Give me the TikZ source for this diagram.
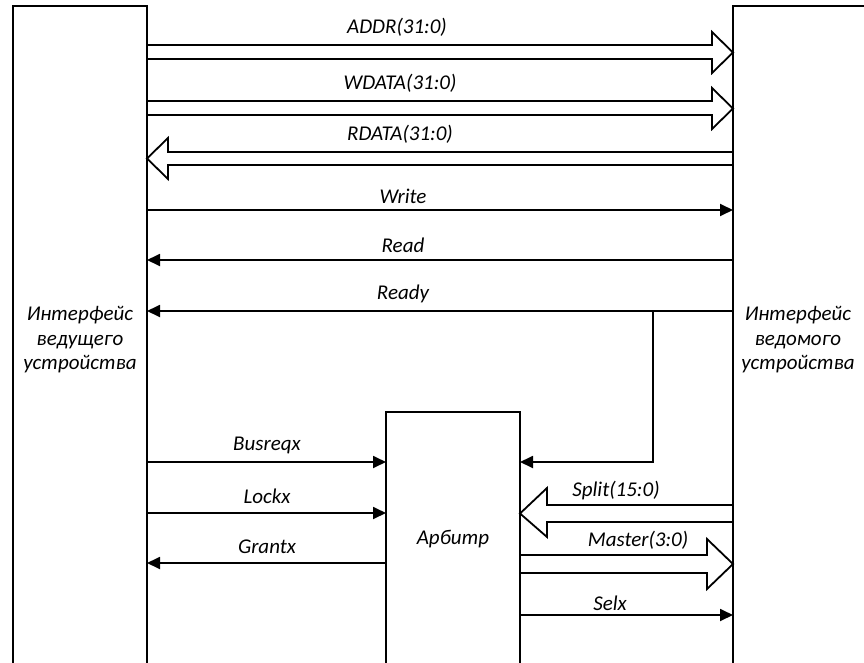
\documentclass[tikz,border=0pt]{standalone}
\usepackage{fontspec}
\setmainfont{Carlito}
\usetikzlibrary{arrows.meta}
\tikzset{
  blk/.style={draw,line width=1.8pt,outer sep=0pt,inner sep=0pt},
  sig/.style={line width=1.8pt,-{Triangle[length=13pt,width=12pt]}},
  bus/.style={line width=1.8pt,line join=miter},
  lbl/.style={font=\fontsize{21}{24.5}\selectfont\itshape,inner sep=0pt,align=center}
}

\begin{document}
\begin{tikzpicture}[x=1pt,y=-1pt]
  \useasboundingbox (0,0) rectangle (864,663);
  \clip (0,0) rectangle (864,663);
  \node[blk,minimum width=134pt,minimum height=680pt] (mst) at (80,346) {};
  \node[blk,minimum width=300pt,minimum height=680pt] (slv) at (883,346) {};
  \node[blk,minimum width=134pt,minimum height=300pt] (arb) at (453,562) {};
  \node[lbl] (mstlbl) at (80,340) {Интерфейс\\ведущего\\устройства};
  \node[lbl] (slvlbl) at (798,340) {Интерфейс\\ведомого\\устройства};
  \node[lbl] (arblbl) at (453,539) {Арбитр};

  \draw[bus] (mst.east |- 0,45) -- (712,45) -- (712,32) -- (slv.west |- 0,52.5) -- (712,73) -- (712,59) -- (mst.east |- 0,59);
  \draw[bus] (mst.east |- 0,101) -- (712,101) -- (712,88) -- (slv.west |- 0,108.5) -- (712,129) -- (712,115) -- (mst.east |- 0,115);
  \draw[bus] (slv.west |- 0,152) -- (168,152) -- (168,138) -- (mst.east |- 0,158.5) -- (168,179) -- (168,165) -- (slv.west |- 0,165);
  \draw[bus] (slv.west |- 0,505) -- (547,505) -- (547,488) -- (arb.east |- 0,513.5) -- (547,537) -- (547,522) -- (slv.west |- 0,522);
  \draw[bus] (arb.east |- 0,555) -- (707,555) -- (707,539) -- (slv.west |- 0,564) -- (707,589) -- (707,573) -- (arb.east |- 0,573);

  \draw[sig] (mst.east |- 0,210) -- (slv.west |- 0,210);
  \draw[sig] (slv.west |- 0,260) -- (mst.east |- 0,260);
  \draw[sig] (slv.west |- 0,311) -- (mst.east |- 0,311);
  \coordinate (rdy) at (653,311);
  \draw[sig] (rdy) |- (arb.east |- 0,462);
  \draw[sig] (mst.east |- 0,462) -- (arb.west |- 0,462);
  \draw[sig] (mst.east |- 0,513) -- (arb.west |- 0,513);
  \draw[sig] (arb.west |- 0,563) -- (mst.east |- 0,563);
  \draw[sig] (arb.east |- 0,615) -- (slv.west |- 0,615);

  \node[lbl] (addr) at (397,27) {ADDR(31:0)};
  \node[lbl] (wdata) at (400,83) {WDATA(31:0)};
  \node[lbl] (rdata) at (400,134) {RDATA(31:0)};
  \node[lbl] (write) at (403,196) {Write};
  \node[lbl] (read) at (403,245) {Read};
  \node[lbl] (ready) at (403,294) {Ready};
  \node[lbl] (busreq) at (267,445) {Busreqx};
  \node[lbl] (lock) at (267,496) {Lockx};
  \node[lbl] (grant) at (267,547) {Grantx};
  \node[lbl] (split) at (616,491) {Split(15:0)};
  \node[lbl] (master) at (638,540) {Master(3:0)};
  \node[lbl] (sel) at (610,603) {Selx};
\end{tikzpicture}
\end{document}
